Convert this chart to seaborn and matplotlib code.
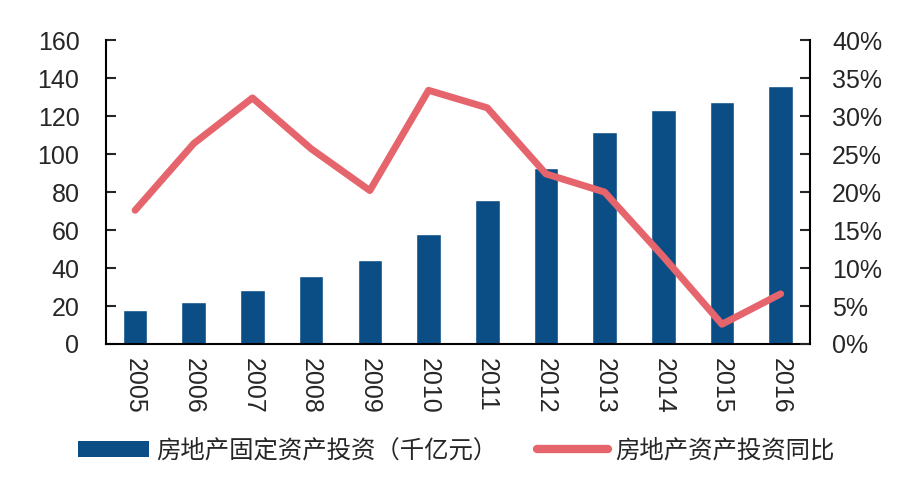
import numpy as np
import pandas as pd
import seaborn as sns
import matplotlib.pyplot as plt
from matplotlib.ticker import PercentFormatter
from matplotlib.patches import Patch
from matplotlib.lines import Line2D

# 数据
years = ['2005', '2006', '2007', '2008', '2009', '2010',
         '2011', '2012', '2013', '2014', '2015', '2016']
invest = [18.0, 22.2, 28.6, 35.8, 44.2, 57.9, 75.8, 92.7, 111.5, 123.4, 127.7, 135.9]
yoy = [17.6, 26.4, 32.4, 25.7, 20.2, 33.4, 31.1, 22.4, 20.0, 11.5, 2.6, 6.6]
label_bar = '房地产固定资产投资（千亿元）'
label_line = '房地产资产投资同比'

bar_color = '#0b4e86'
line_color = '#e6646c'

sns.set_style('white')
plt.rcParams['font.family'] = ['Liberation Sans', 'Noto Sans CJK SC']

df = pd.DataFrame({'year': years, 'invest': invest, 'yoy': yoy})

fig, ax = plt.subplots(figsize=(9.04, 4.9), dpi=100)
fig.subplots_adjust(left=0.117, right=0.896, top=0.918, bottom=0.298)

sns.barplot(data=df, x='year', y='invest', color=bar_color, saturation=1,
            width=0.42, ax=ax)

ax2 = ax.twinx()
sns.lineplot(x=np.arange(len(years)), y=df['yoy'], color=line_color, lw=5,
             ax=ax2, legend=False)

ax.set_xlim(-0.5, len(years) - 0.5)
ax.set_ylim(0, 160)
ax2.set_ylim(0, 40)
ax.set_yticks(range(0, 161, 20))
ax2.set_yticks(range(0, 41, 5))
ax2.yaxis.set_major_formatter(PercentFormatter(decimals=0))
ax.set_xlabel('')
ax.set_ylabel('')
ax2.set_ylabel('')

# 刻度
ax.set_xticks(np.arange(len(years)))
ax.set_xticklabels(years, rotation=-90, fontsize=18)
ax.set_xticks(np.arange(0.5, len(years) - 1, 1), minor=True)
ax.tick_params(axis='x', which='major', length=0, pad=10)
ax.tick_params(axis='x', which='minor', direction='in', length=6, width=1.5, color='black')
ax.tick_params(axis='y', direction='in', length=7, width=1.5, labelsize=18, left=True, pad=19)
ax2.tick_params(axis='y', direction='in', length=7, width=1.5, labelsize=18, right=True, pad=16)

for a in (ax, ax2):
    a.spines['top'].set_visible(False)
    for s in ('left', 'right', 'bottom'):
        a.spines[s].set_color('black')
        a.spines[s].set_linewidth(1.5)
ax.spines['right'].set_visible(False)
ax2.spines['left'].set_visible(False)
ax2.spines['bottom'].set_visible(False)

handles = [Patch(facecolor=bar_color, edgecolor='none'),
           Line2D([0], [0], color=line_color, lw=6, solid_capstyle='round')]
fig.legend(handles, [label_bar, label_line], loc='center',
           bbox_to_anchor=(0.505, 0.08), ncol=2, frameon=False, fontsize=17.6,
           handlelength=2.9, handleheight=0.65, handletextpad=0.3,
           columnspacing=1.6)

plt.savefig('out.png', dpi=100)
